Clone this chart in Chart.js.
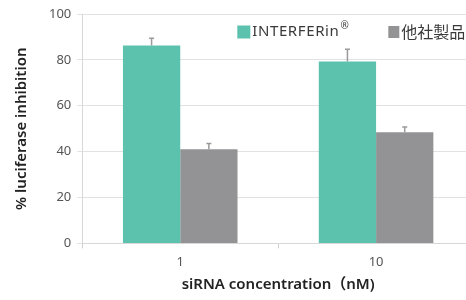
<!DOCTYPE html>
<html><head><meta charset="utf-8">
<script src="https://cdn.jsdelivr.net/npm/chart.js@4/dist/chart.umd.min.js"></script>
<style>
html,body{margin:0;padding:0;background:#fff;overflow:hidden;width:466px;height:300px;}
#wrap{position:absolute;left:0;top:0;width:476px;height:300px;}
</style></head>
<body><div id="wrap"><canvas id="c"></canvas></div>
<script>
const categories = ['1', '10'];
const seriesNames = ['INTERFERin', '他社製品'];
const seriesColors = ['#5cc2ae', '#939395'];
const interferin = [86.3, 79.3];
const competitor = [41.0, 48.5];
const interferinErr = [3.1, 5.3];
const competitorErr = [2.6, 2.2];
const yTicks = [0, 20, 40, 60, 80, 100];

const errPlugin = {
  id: 'errbars',
  afterDatasetsDraw(chart) {
    const ctx = chart.ctx, y = chart.scales.y;
    const errs = [interferinErr, competitorErr];
    chart.data.datasets.forEach((ds, i) => {
      const meta = chart.getDatasetMeta(i);
      meta.data.forEach((bar, j) => {
        const top = y.getPixelForValue(ds.data[j] + errs[i][j]);
        ctx.save();
        ctx.strokeStyle = '#9a9a9a';
        ctx.lineWidth = 1.5;
        ctx.beginPath();
        ctx.moveTo(bar.x, bar.y);
        ctx.lineTo(bar.x, top);
        ctx.moveTo(bar.x - 2.5, top);
        ctx.lineTo(bar.x + 2.5, top);
        ctx.stroke();
        ctx.restore();
      });
    });
  }
};

const legendPlugin = {
  id: 'customLegend',
  afterDraw(chart) {
    const ctx = chart.ctx, ca = chart.chartArea;
    const cy = ca.top + 18;
    ctx.save();
    ctx.textBaseline = 'middle';
    let x = ca.left + 155;
    ctx.fillStyle = seriesColors[0];
    ctx.fillRect(x, cy - 6.5, 13, 13);
    ctx.fillStyle = '#3a3a3a';
    ctx.font = "15px 'Noto Sans', sans-serif";
    ctx.letterSpacing = '0.6px';
    ctx.fillText(seriesNames[0], x + 15, cy);
    const w = ctx.measureText(seriesNames[0]).width;
    ctx.font = "10px 'Noto Sans', sans-serif";
    ctx.letterSpacing = '0px';
    ctx.fillText('\u00AE', x + 15 + w + 1, cy - 6);
    x = ca.left + 306;
    ctx.fillStyle = seriesColors[1];
    ctx.fillRect(x, cy - 6, 11, 12);
    ctx.fillStyle = '#3a3a3a';
    ctx.font = "16px 'Noto Sans CJK JP', sans-serif";
    ctx.fillText(seriesNames[1], x + 13, cy);
    ctx.restore();
  }
};

new Chart(document.getElementById('c'), {
  type: 'bar',
  data: {
    labels: categories,
    datasets: [
      { label: seriesNames[0] + '\u00AE', data: interferin, backgroundColor: seriesColors[0] },
      { label: seriesNames[1], data: competitor, backgroundColor: seriesColors[1] }
    ]
  },
  options: {
    responsive: true,
    maintainAspectRatio: false,
    animation: false,
    layout: { padding: { top: 14, right: 2, left: 9, bottom: 6 } },
    datasets: { bar: { categoryPercentage: 0.585, barPercentage: 1.0 } },
    plugins: {
      legend: { display: false },
      tooltip: { enabled: false }
    },
    scales: {
      x: {
        grid: { display: true, drawOnChartArea: false, tickLength: 5, color: '#cfcfcf', offset: true },
        border: { color: '#d8d8d8' },
        ticks: { color: '#555', font: { family: "'Noto Sans', sans-serif", size: 13 }, padding: 6 },
        title: { display: true, text: 'siRNA concentration（nM)', color: '#222',
          font: { family: "'Noto Sans', 'Noto Sans CJK JP', sans-serif", size: 15, weight: '600' }, padding: { top: 0, bottom: 0 } }
      },
      y: {
        min: 0, max: 100,
        afterBuildTicks(s) { s.ticks = yTicks.map(v => ({ value: v })); },
        grid: { color: '#e2e2e2', tickLength: 5 },
        border: { color: '#d8d8d8' },
        ticks: { color: '#555', font: { family: "'Noto Sans', sans-serif", size: 13 }, padding: 6 },
        title: { display: true, text: '% luciferase inhibition', color: '#222',
          font: { family: "'Noto Sans', sans-serif", size: 15, weight: '600' }, padding: { bottom: 12 } }
      }
    }
  },
  plugins: [errPlugin, legendPlugin]
});
</script></body></html>
